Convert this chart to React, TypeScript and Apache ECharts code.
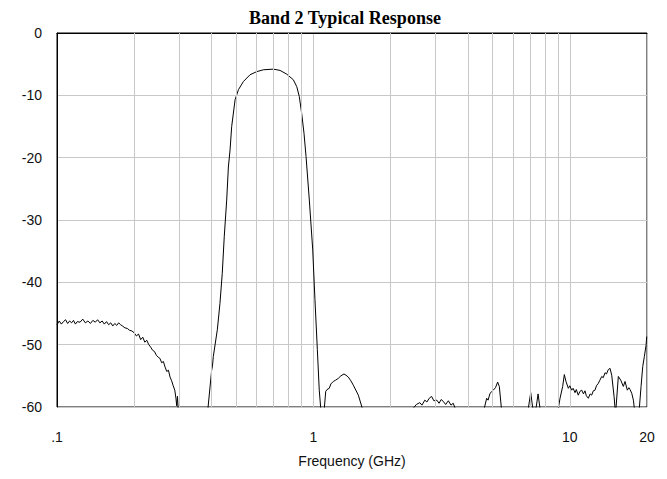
import React, { useEffect, useRef } from "react";
import * as echarts from "echarts";

// Frequency (GHz), dB pairs
const lowBand: [number, number][] = [
  [0.1, -46.8], [0.102, -46.2], [0.104, -46.7], [0.106, -46.3], [0.108, -46.0], [0.11, -46.6],
  [0.112, -46.2], [0.114, -46.5], [0.116, -46.1], [0.118, -46.7], [0.12, -46.3], [0.123, -46.4],
  [0.126, -45.9], [0.129, -46.5], [0.132, -46.2], [0.135, -46.6], [0.138, -46.1], [0.141, -46.4],
  [0.144, -46.0], [0.147, -46.5], [0.15, -46.2], [0.153, -46.7], [0.156, -46.3], [0.159, -46.8],
  [0.162, -46.5], [0.165, -47.0], [0.168, -46.6], [0.171, -46.9], [0.174, -46.5], [0.177, -46.8],
  [0.18, -47.0], [0.184, -47.3], [0.188, -47.4], [0.192, -47.7], [0.196, -47.8], [0.2, -48.1],
  [0.204, -48.6], [0.208, -48.3], [0.212, -49.2], [0.216, -48.8], [0.22, -49.6], [0.224, -49.3],
  [0.228, -50.0], [0.232, -50.4], [0.236, -50.9], [0.24, -51.1], [0.244, -51.7], [0.248, -52.0],
  [0.252, -52.2], [0.256, -52.9], [0.26, -52.7], [0.264, -53.6], [0.268, -54.3], [0.272, -54.1],
  [0.276, -55.2], [0.28, -55.8], [0.284, -56.6], [0.288, -57.3], [0.291, -58.6], [0.293, -59.8],
  [0.295, -58.3], [0.297, -60.5],
];

const passBand: [number, number][] = [
  [0.388, -60.2], [0.401, -54.1], [0.404, -53.4], [0.407, -51.9], [0.422, -47.6], [0.432, -43.4],
  [0.441, -38.6], [0.449, -32.7], [0.459, -26.8], [0.466, -21.5], [0.473, -18.8], [0.48, -15.0],
  [0.495, -10.7], [0.51, -9.1], [0.533, -7.8], [0.566, -6.7], [0.601, -6.2], [0.638, -5.9],
  [0.698, -5.8], [0.741, -6.0], [0.787, -6.6], [0.835, -7.5], [0.861, -8.6], [0.881, -10.2],
  [0.9, -12.9], [0.919, -16.1], [0.936, -19.8], [0.964, -26.8], [0.994, -34.8], [1.014, -42.8],
  [1.036, -50.8], [1.054, -57.3], [1.068, -60.2],
];

const firstSpur: [number, number][] = [
  [1.103, -60.2], [1.117, -57.5], [1.13, -57.2], [1.153, -57.0], [1.17, -56.3], [1.196, -55.9],
  [1.22, -55.7], [1.251, -55.4], [1.28, -55.0], [1.316, -54.7], [1.34, -54.9], [1.368, -55.2],
  [1.4, -55.8], [1.431, -56.5], [1.497, -58.1], [1.551, -60.2],
];

const secondSpur: [number, number][] = [
  [2.45, -60.2], [2.52, -59.6], [2.6, -59.3], [2.65, -59.7], [2.72, -58.9], [2.77, -59.2],
  [2.83, -58.6], [2.89, -58.3], [2.95, -59.0], [3.03, -58.9], [3.09, -59.4], [3.15, -58.8],
  [3.21, -59.1], [3.28, -59.6], [3.36, -59.0], [3.44, -59.7], [3.51, -59.4], [3.57, -60.2],
];

const thirdSpur: [number, number][] = [
  [4.64, -60.2], [4.74, -58.6], [4.8, -58.9], [4.885, -57.8], [5.03, -57.3], [5.13, -56.9],
  [5.23, -56.0], [5.31, -56.7], [5.41, -60.2],
];

const fourthSpur: [number, number][] = [
  [6.89, -60.2], [7.04, -57.7], [7.17, -60.2], [7.385, -60.2], [7.52, -57.9], [7.65, -60.2],
];

const fifthSpur: [number, number][] = [
  [9.02, -60.2], [9.16, -58.6], [9.38, -56.7], [9.52, -54.8], [9.66, -55.9], [9.87, -57.0],
  [10.0, -56.6], [10.17, -57.3], [10.3, -57.0], [10.48, -57.7], [10.6, -57.2], [10.79, -58.1],
  [10.95, -57.5], [11.13, -57.3], [11.3, -57.9], [11.46, -57.4], [11.6, -58.2], [11.81, -58.6],
  [12.0, -57.9], [12.17, -58.1], [12.35, -57.4], [12.54, -57.3], [12.7, -56.6], [12.92, -56.2],
  [13.1, -55.7], [13.32, -55.1], [13.5, -55.3], [13.72, -54.5], [13.9, -54.7], [14.13, -54.0],
  [14.35, -53.8], [14.57, -54.9], [14.88, -58.3], [15.01, -60.2],
];

const sixthSpur: [number, number][] = [
  [15.14, -60.2], [15.46, -55.1], [15.8, -55.7], [16.17, -56.7], [16.42, -55.9], [16.76, -57.3],
  [17.0, -56.9], [17.18, -57.2], [17.44, -57.8], [17.7, -58.9], [17.85, -60.2],
];

const topSpur: [number, number][] = [
  [18.67, -60.2], [18.96, -56.7], [19.25, -53.5], [19.53, -51.9], [19.83, -50.1], [19.95, -48.7],
];

const minorGridFreqs = [0.2, 0.3, 0.4, 0.5, 0.6, 0.7, 0.8, 0.9, 2, 3, 4, 5, 6, 7, 8, 9];
const xTickLabels: Record<string, string> = { "0.1": ".1", "1": "1", "10": "10", "20": "20" };

const segments = [lowBand, passBand, firstSpur, secondSpur, thirdSpur, fourthSpur, fifthSpur, sixthSpur, topSpur];

export default function App() {
  const ref = useRef<HTMLDivElement>(null);
  useEffect(() => {
    document.body.style.margin = "0";
    if (!ref.current) return;
    const chart = echarts.init(ref.current, null, { renderer: "svg" });
    const gridColor = "#c8c8c8";
    const series: any[] = segments.map((seg) => ({
      type: "line",
      data: seg,
      showSymbol: false,
      symbol: "none",
      clip: true,
      lineStyle: { color: "#000", width: 1 },
      silent: true,
    }));
    series.push({
      type: "line",
      data: [],
      silent: true,
      markLine: {
        silent: true,
        symbol: "none",
        label: { show: false },
        lineStyle: { color: gridColor, width: 1, type: "solid" },
        data: minorGridFreqs.map((f) => ({ xAxis: f })),
      },
    });
    chart.setOption({
      animation: false,
      title: {
        text: "Band 2 Typical Response",
        left: 244,
        top: 4,
        textStyle: {
          fontFamily: "Liberation Serif",
          fontWeight: "bold",
          fontSize: 18,
          color: "#000",
        },
      },
      grid: {
        left: 57,
        right: 20,
        top: 33,
        bottom: 72,
        show: true,
        borderColor: "#000",
        borderWidth: 1,
        backgroundColor: "transparent",
      },
      xAxis: {
        type: "log",
        logBase: 10,
        min: 0.1,
        max: 20,
        name: "Frequency (GHz)",
        nameLocation: "middle",
        nameGap: 47,
        nameTextStyle: { fontFamily: "Liberation Sans", fontSize: 14, color: "#111" },
        axisLine: { show: true, lineStyle: { color: "#000" } },
        axisTick: { show: false },
        axisLabel: {
          margin: 23,
          fontFamily: "Liberation Sans",
          fontSize: 14,
          color: "#111",
          showMaxLabel: true,
          formatter: (v: number) => {
            const k = String(Math.round(v * 1000) / 1000);
            return xTickLabels[k] ?? "";
          },
        },
        splitLine: { show: true, lineStyle: { color: gridColor, width: 1 } },
      },
      yAxis: {
        type: "value",
        min: -60,
        max: 0,
        interval: 10,
        axisLine: { show: true, lineStyle: { color: "#000" } },
        axisTick: { show: false },
        axisLabel: {
          margin: 15,
          fontFamily: "Liberation Sans",
          fontSize: 14,
          color: "#111",
          padding: [6, 0, 0, 0],
        },
        splitLine: { show: true, lineStyle: { color: gridColor, width: 1 } },
      },
      series,
    });
    return () => chart.dispose();
  }, []);
  return <div ref={ref} style={{ width: 667, height: 479 }} />;
}
